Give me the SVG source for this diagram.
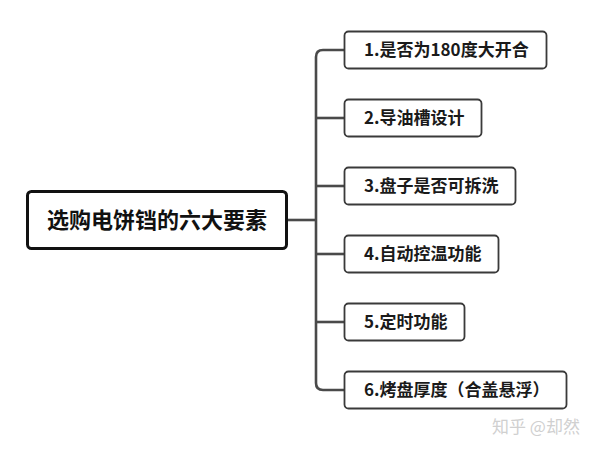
<svg xmlns="http://www.w3.org/2000/svg" width="600" height="453" viewBox="0 0 600 453">
<style>
.box{fill:#fff;stroke:#3a3a3a;stroke-width:1.8}
.root{fill:#fff;stroke:#111;stroke-width:3}
.t{font-family:"Noto Sans CJK SC","Liberation Sans",sans-serif;font-weight:bold;font-size:17px;fill:#1a1a1a}
.rt{font-family:"Noto Sans CJK SC","Liberation Sans",sans-serif;font-weight:bold;font-size:22px;fill:#111;text-anchor:middle}
.c{fill:none;stroke:#4a4a4a;stroke-width:2.6;stroke-linejoin:round}
.wm{font-family:"Noto Sans CJK SC","Liberation Sans",sans-serif;font-size:17px;fill:#d0d0d0}
</style>
<rect width="600" height="453" fill="#fff"/>
<g id="connectors">
<path class="c" d="M287 220 H316"/>
<path class="c" d="M344 50 H323 Q316 50 316 57 V383 Q316 390 323 390 H344"/>
<path class="c" d="M316 118 H344"/>
<path class="c" d="M316 186 H344"/>
<path class="c" d="M316 254 H344"/>
<path class="c" d="M316 322 H344"/>
</g>
<g id="root">
<rect class="root" x="27.5" y="191.5" width="259" height="57" rx="4"/>
<text class="rt" x="157" y="228">选购电饼铛的六大要素</text>
</g>
<g id="n1">
<rect class="box" x="344.5" y="31.5" width="202" height="37" rx="4"/>
<text class="t" x="364" y="56">1.是否为180度大开合</text>
</g>
<g id="n2">
<rect class="box" x="344.5" y="99.5" width="137" height="37" rx="4"/>
<text class="t" x="364" y="124">2.导油槽设计</text>
</g>
<g id="n3">
<rect class="box" x="344.5" y="167.5" width="171" height="37" rx="4"/>
<text class="t" x="364" y="192">3.盘子是否可拆洗</text>
</g>
<g id="n4">
<rect class="box" x="344.5" y="235.5" width="154" height="37" rx="4"/>
<text class="t" x="364" y="260">4.自动控温功能</text>
</g>
<g id="n5">
<rect class="box" x="344.5" y="303.5" width="120" height="37" rx="4"/>
<text class="t" x="364" y="328">5.定时功能</text>
</g>
<g id="n6">
<rect class="box" x="344.5" y="371.5" width="222" height="37" rx="4"/>
<text class="t" x="364" y="396">6.烤盘厚度（合盖悬浮）</text>
</g>
<text class="wm" x="492" y="433">知乎 @却然</text>
</svg>
